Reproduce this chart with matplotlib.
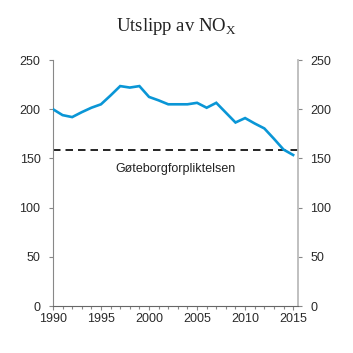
import matplotlib.pyplot as plt
import numpy as np

# Utslipp av NOx (1000 tonn), lest av figuren
years = np.arange(1990, 2016)
nox = [200, 194, 192, 197, 201.5, 205, 214, 223.5, 222, 223.5, 212.5, 209,
       205, 205, 205, 206.5, 201.5, 206.5, 196.5, 186.5, 191, 185.5, 180.5,
       170, 159, 153.5]
goteborg = 159
goteborg_label = "Gøteborgforpliktelsen"
title_txt = "Utslipp av NO$_\\mathregular{X}$"

BLUE = "#0a96d6"
SANS = "Liberation Sans"

fig = plt.figure(figsize=(3.53, 3.53), dpi=100)
ax = fig.add_axes([0.150, 0.133, 0.694, 0.697])

ax.plot(years, nox, color=BLUE, lw=1.9, solid_joinstyle="miter", zorder=3)
ax.axhline(goteborg, color="black", lw=1.2, ls=(0, (4.5, 3)), zorder=2)
ax.text(2002.8, 139, goteborg_label, ha="center", va="center",
        fontsize=9, family=SANS, color="#222222")

ax.set_xlim(1990, 2015.5)
ax.set_ylim(0, 250)
ax.set_xticks(range(1990, 2016, 5))
ax.set_xticks(years, minor=True)
ax.set_yticks(range(0, 251, 50))

ax.spines["top"].set_visible(False)
ax.spines["left"].set_color("#888888")
ax.spines["bottom"].set_color("#666666")
ax.spines["right"].set_color("#bbbbbb")
ax.spines["right"].set_linewidth(1.3)

ax.tick_params(axis="both", which="both", colors="#888888", labelcolor="#2a2a2a",
               labelsize=9, length=3, width=0.8)
ax.tick_params(axis="x", which="minor", length=2.5)
ax.tick_params(axis="y", right=True, labelright=True, pad=6)
ax.tick_params(axis="x", pad=2)
for lab in ax.get_xticklabels() + ax.get_yticklabels():
    lab.set_family(SANS)
for t in ax.yaxis.get_major_ticks():
    t.label2.set_family(SANS)

fig.text(0.5, 0.925, title_txt, ha="center", va="center",
         fontsize=13.5, family="Liberation Serif", color="#222222")

fig.savefig("out.png", dpi=100)
